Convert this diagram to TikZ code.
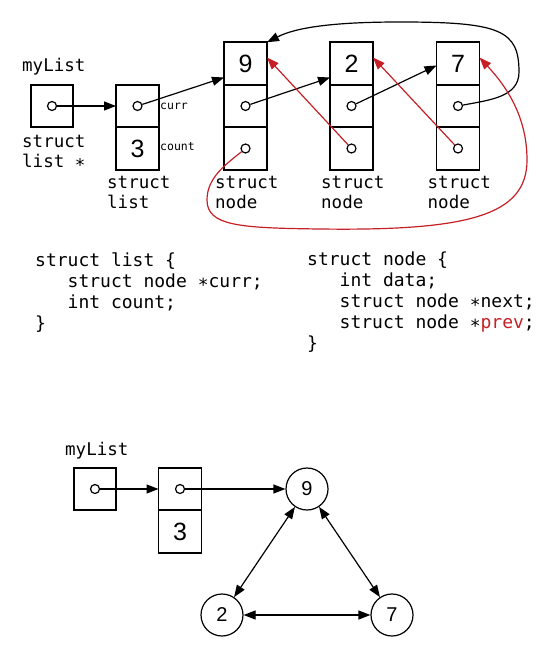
\documentclass[tikz,border=0pt]{standalone}
\usepackage{fontspec}
\setmainfont{Liberation Sans}
\setmonofont{DejaVu Sans Mono}
\usetikzlibrary{arrows.meta,positioning}
\definecolor{prevred}{RGB}{196,32,38}
\newcommand{\ptrstar}{\raisebox{-0.22em}{*}}

\tikzset{
  cell/.style={draw, line width=1.6pt, minimum width=43pt, minimum height=42.5pt, inner sep=0pt, outer sep=0pt, font=\fontsize{25}{25}\selectfont},
  ptr/.style={circle, draw, fill=white, line width=1.2pt, minimum size=9pt, inner sep=0pt},
  link/.style={line width=1.2pt, -{Triangle[length=12pt,width=9pt]}},
  twoway/.style={line width=1.2pt, {Triangle[length=12pt,width=9pt]}-{Triangle[length=12pt,width=9pt]}},
  prevlink/.style={link, prevred},
  code/.style={font=\ttfamily\fontsize{18}{21}\selectfont, align=left, inner sep=0pt, anchor=north west},
  lbl/.style={code, font=\ttfamily\fontsize{17.5}{19.5}\selectfont},
  tag/.style={font=\ttfamily\fontsize{11.5}{12}\selectfont, inner sep=0pt, anchor=base west},
  elem/.style={circle, draw, line width=1.2pt, minimum size=42pt, inner sep=0pt, font=\fontsize{20}{20}\selectfont},
}

\begin{document}
\begin{tikzpicture}[x=1pt, y=-1pt]
        \useasboundingbox (0,0) rectangle (556,655);

        % pointer variable
        \node[lbl, anchor=base west] (mylistname) at (22,72) {myList};
        \node[cell, minimum width=42pt, minimum height=42pt] (mybox) at (52,106) {};
        \node[ptr] (myptr) at (mybox) {};
        \node[lbl] (mytype) at (22,135.5) {struct\\list \ptrstar};

        % struct list
        \node[cell] (lcurr) at (137.5,106) {};
        \node[cell, below=0pt of lcurr] (lcount) {3};
        \node[ptr] (lptr) at (lcurr) {};
        \node[tag] (currtag) at (160,110) {curr};
        \node[tag] (counttag) at (160,150) {count};
        \node[lbl] (listtype) at (107,176.5) {struct\\list};

        % struct nodes
        \foreach \name/\val/\x in {n9/9/245.5, n2/2/351.5, n7/7/458} {
            \node[cell] (\name-data) at (\x,63.5) {\val};
            \node[cell, below=0pt of \name-data] (\name-next) {};
            \node[cell, below=0pt of \name-next] (\name-prev) {};
            \node[ptr] (\name-ptrn) at (\name-next) {};
            \node[ptr] (\name-ptrp) at (\name-prev) {};
            \node[lbl] (\name-type) at (\x-30.5,176.5) {struct\\node};
        }

        % next pointers
        \draw[link] (myptr) -- (lcurr);
        \draw[link] (lptr) -- ([yshift=-14pt]n9-data.west);
        \draw[link] (n9-ptrn) -- ([yshift=-14pt]n2-data.west);
        \draw[link] (n2-ptrn) -- ([yshift=-2pt]n7-data.west);
        \draw[link] (n7-ptrn) .. controls (490,100) and (519,97) .. (519,72)
            .. controls (519,30) and (500,22) .. (400,22)
            .. controls (330,22) and (295,28) .. (n9-data.north east);

        % prev pointers
        \draw[prevlink] (n2-ptrp) -- ([yshift=6pt]n9-data.east);
        \draw[prevlink] (n7-ptrp) -- ([yshift=6pt]n2-data.east);
        \draw[prevlink] (n9-ptrp) .. controls (225,165) and (207,178) .. (207,200)
            .. controls (207,226) and (240,228) .. (320,229)
            .. controls (470,231) and (527,215) .. (527,160)
            .. controls (527,115) and (505,85) .. ([yshift=6pt]n7-data.east);

        % declarations
        \node[code] (listdef) at (35,252.5) {struct list \{\\\phantom{xxx}struct node \ptrstar curr;\\\phantom{xxx}int count;\\\}};
        \node[code] (nodedef) at (307,252) {struct node \{\\\phantom{xxx}int data;\\\phantom{xxx}struct node \ptrstar next;\\\phantom{xxx}struct node \ptrstar\textcolor{prevred}{prev};\\\}};

        % abstract view
        \node[lbl, anchor=base west] (absname) at (65,455) {myList};
        \node[cell, minimum width=42pt, minimum height=42pt] (bbox) at (95,489) {};
        \node[ptr] (bptr) at (bbox) {};
        \node[cell] (bcurr) at (180,489) {};
        \node[cell, below=0pt of bcurr] (bcount) {3};
        \node[ptr] (bcptr) at (bcurr) {};
        \node[elem] (e9) at (307,489) {9};
        \node[elem] (e2) at (222,615) {2};
        \node[elem] (e7) at (392,615) {7};

        \draw[link] (bptr) -- (bcurr);
        \draw[link] (bcptr) -- (e9);
        \draw[twoway] (e9) -- (e2);
        \draw[twoway] (e9) -- (e7);
        \draw[twoway] (e2) -- (e7);

\end{tikzpicture}
\end{document}
